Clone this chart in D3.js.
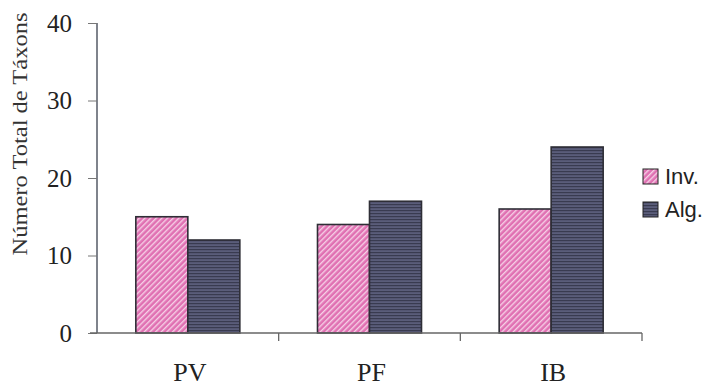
<!DOCTYPE html>
<html>
<head>
<meta charset="utf-8">
<script src="https://cdn.jsdelivr.net/npm/d3@7"></script>
<style>
 body { margin:0; background:#fff; }
</style>
</head>
<body>
<script>
var categories = ["PV", "PF", "IB"];
var seriesNames = ["Inv.", "Alg."];
var invValues = [15, 14, 16];
var algValues = [12, 17, 24];
var yTicks = [0, 10, 20, 30, 40];

var svg = d3.select("body").append("svg")
            .attr("width", 715)
            .attr("height", 388);

var defs = svg.append("defs");

// diagonal pink hatch
var pInv = defs.append("pattern")
    .attr("id", "hInv")
    .attr("patternUnits", "userSpaceOnUse")
    .attr("width", 4).attr("height", 4)
    .attr("patternTransform", "rotate(45)");
pInv.append("rect").attr("width", 4).attr("height", 4).style("fill", "#e070b2");
pInv.append("rect").attr("x", 0).attr("width", 1.4).attr("height", 4).style("fill", "#f6d0e6");

// horizontal dark hatch
var pAlg = defs.append("pattern")
    .attr("id", "hAlg")
    .attr("patternUnits", "userSpaceOnUse")
    .attr("width", 4).attr("height", 3);
pAlg.append("rect").attr("width", 4).attr("height", 3).style("fill", "#5a5d7a");
pAlg.append("rect").attr("y", 0).attr("width", 4).attr("height", 1.2).style("fill", "#393b50");

var fills = ["url(#hInv)", "url(#hAlg)"];

var x = d3.scaleBand().domain(categories).range([97, 642]);
var x1 = d3.scaleBand().domain([0, 1]).range([0, 104]);
var y = d3.scaleLinear().domain([0, 40]).range([333, 23]);

var data = categories.map(function (c, i) {
  return { cat: c, vals: [invValues[i], algValues[i]] };
});

var groups = svg.selectAll("g.grp").data(data).enter().append("g")
   .attr("class", "grp")
   .attr("transform", function (d) { return "translate(" + (x(d.cat) + x.bandwidth() / 2 - 52) + ",0)"; });

groups.selectAll("rect").data(function (d) { return d.vals; }).enter().append("rect")
   .attr("x", function (d, j) { return x1(j); })
   .attr("y", function (d) { return y(d); })
   .attr("width", x1.bandwidth())
   .attr("height", function (d) { return y(0) - y(d); })
   .style("fill", function (d, j) { return fills[j]; })
   .style("stroke", "#2e2e36")
   .style("stroke-width", 1.6);

// y axis
var yAxis = d3.axisLeft(y).tickValues(yTicks).tickSize(9).tickPadding(16);
var gy = svg.append("g").attr("transform", "translate(97,0)").call(yAxis);
gy.select(".domain").attr("d", "M0," + y(40) + "V" + y(0)).style("stroke", "#555a66").style("stroke-width", 1.5);
gy.selectAll(".tick line").style("stroke", "#777");
gy.selectAll(".tick text")
  .style("font-family", "'Liberation Serif', 'Times New Roman', serif")
  .style("font-size", "25px")
  .style("fill", "#222");

// x axis: ticks between categories
var gx = svg.append("g");
gx.append("line")
  .attr("x1", 90).attr("x2", x.range()[1])
  .attr("y1", y(0)).attr("y2", y(0))
  .style("stroke", "#666").style("stroke-width", 1.3);
gx.selectAll("line.tk").data(categories).enter().append("line")
  .attr("class", "tk")
  .attr("x1", function (d) { return x(d) + x.bandwidth(); })
  .attr("x2", function (d) { return x(d) + x.bandwidth(); })
  .attr("y1", y(0)).attr("y2", y(0) + 8)
  .style("stroke", "#666").style("stroke-width", 1.3);
gx.selectAll("text").data(categories).enter().append("text")
  .attr("x", function (d) { return x(d) + x.bandwidth() / 2 + 2; })
  .attr("y", 381)
  .attr("text-anchor", "middle")
  .style("font-family", "'Liberation Serif', 'Times New Roman', serif")
  .style("font-size", "26px")
  .style("fill", "#222")
  .text(function (d) { return d; });

// y label
svg.append("text")
  .attr("transform", "translate(27,134) rotate(-90)")
  .attr("text-anchor", "middle")
  .attr("textLength", 243)
  .attr("lengthAdjust", "spacingAndGlyphs")
  .style("font-family", "'Liberation Serif', 'Times New Roman', serif")
  .style("font-size", "21px")
  .style("fill", "#333")
  .text("Número Total de Táxons");

// legend
var leg = svg.selectAll("g.leg").data(seriesNames).enter().append("g")
  .attr("class", "leg")
  .attr("transform", function (d, i) { return "translate(643," + (169 + i * 33) + ")"; });
leg.append("rect")
  .attr("width", 15).attr("height", 15)
  .style("fill", function (d, i) { return fills[i]; })
  .style("stroke", "#222").style("stroke-width", 1);
leg.append("text")
  .attr("x", 22).attr("y", 15)
  .style("font-family", "'Liberation Sans', Arial, sans-serif")
  .style("font-size", "22px")
  .style("fill", "#222")
  .text(function (d) { return d; });
</script>
</body>
</html>
